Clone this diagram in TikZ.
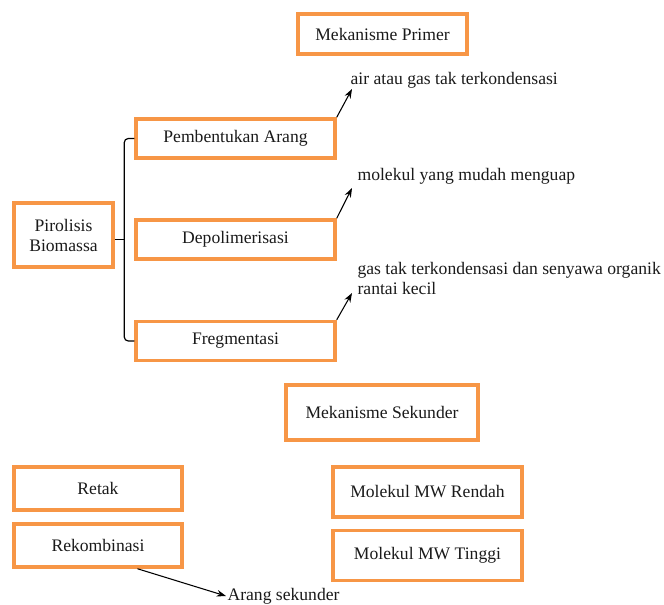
\documentclass[tikz,border=0pt]{standalone}
\usepackage{fontspec}
\setmainfont{Liberation Serif}
\usepackage{xcolor}
\usetikzlibrary{arrows.meta,positioning,calc}
\definecolor{orange}{HTML}{F79646}
\definecolor{textblack}{HTML}{1A1A1A}

\begin{document}
\begin{tikzpicture}[x=0.75pt,y=-0.75pt,font=\fontsize{13.2}{15}\selectfont,text=textblack,
  obox/.style={draw=orange,line width=2.6pt,align=center,inner sep=2pt},
  arr/.style={-{Stealth[length=7pt,width=5pt]},line width=0.8pt,black},
  lbl/.style={anchor=west,align=left,inner sep=1pt}]
  \useasboundingbox (0,0) rectangle (664,604);
  % mekanisme primer
  \node[obox,minimum width=126.75pt,minimum height=30pt] (primer) at (382.5,34) {Mekanisme Primer};
  \node[obox,minimum width=74.25pt,minimum height=48pt] (pirolisis) at (63.5,235) {Pirolisis\\Biomassa};
  \node[obox,minimum width=149.25pt,minimum height=29.25pt] (arang) at (235.5,138.5) {Pembentukan Arang};
  \node[obox,minimum width=149.25pt,minimum height=29.25pt] (depol) at (235.5,239.5) {Depolimerisasi};
  \node[obox,minimum width=149.25pt,minimum height=29.25pt] (fregmen) at (235.5,341) {Fregmentasi};
  \draw[line width=0.9pt,rounded corners=3pt] (arang.west) -- ++(-10,0) coordinate (br) |- (fregmen.west);
  \draw[line width=0.9pt] (pirolisis.east |- depol) -- (br |- depol);
  \node[lbl] (air) at (349,80) {air atau gas tak terkondensasi};
  \node[lbl] (molekul) at (356,176) {molekul yang mudah menguap};
  \node[lbl] (gas) at (356,278) {gas tak terkondensasi dan senyawa organik\\rantai kecil};
  \coordinate (t1) at (352,89);
  \coordinate (t2) at (352,188);
  \coordinate (t3) at (352,293);
  \draw[arr] (arang.north east) -- (t1);
  \draw[arr] (depol.north east) -- (t2);
  \draw[arr] (fregmen.north east) -- (t3);
  % mekanisme sekunder
  \node[obox,minimum width=144pt,minimum height=41.25pt] (sekunder) at (382,412.5) {Mekanisme Sekunder};
  \node[obox,minimum width=126pt,minimum height=32.25pt] (retak) at (98,488.5) {Retak};
  \node[obox,minimum width=126pt,minimum height=32.25pt] (rekomb) at (98,545.5) {Rekombinasi};
  \node[obox,minimum width=141.75pt,minimum height=37.5pt] (rendah) at (427.5,492) {Molekul MW Rendah};
  \node[obox,minimum width=141.75pt,minimum height=37.5pt] (tinggi) at (427.5,555.5) {Molekul MW Tinggi};
  \node[lbl] (sekarang) at (226,596) {Arang sekunder};
  \draw[arr] ($(rekomb.south west)!0.73!(rekomb.south east)$) -- (sekarang.west);
\end{tikzpicture}
\end{document}
